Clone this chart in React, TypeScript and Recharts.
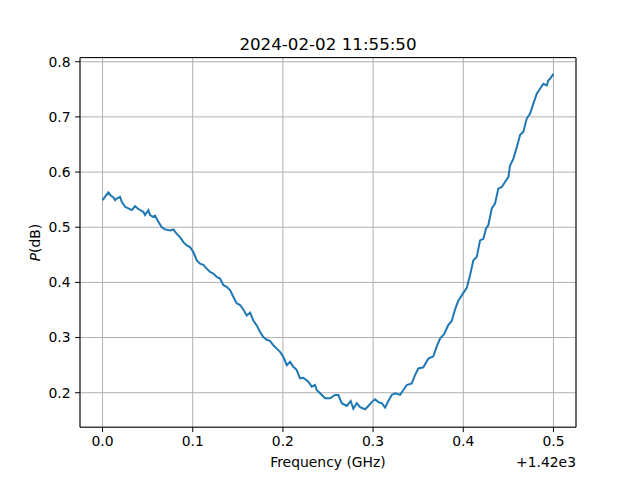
import React from "react";
import {
  LineChart,
  Line,
  XAxis,
  YAxis,
  CartesianGrid,
  ReferenceArea,
  Customized,
} from "recharts";

const TITLE = "2024-02-02 11:55:50";
const X_LABEL = "Frequency (GHz)";
const X_OFFSET_TEXT = "+1.42e3";

// Frequency offsets from 1420 GHz
const freqOffset = [
  0.0, 0.0064, 0.0094, 0.012, 0.0139, 0.0157, 0.0194, 0.0213, 0.025, 0.0286,
  0.0324, 0.036, 0.0397, 0.0452, 0.0471, 0.0508, 0.0527, 0.056, 0.0582, 0.0619,
  0.0656, 0.0693, 0.0749, 0.0785, 0.0823, 0.0859, 0.0896, 0.0934, 0.097, 0.1007,
  0.1045, 0.1081, 0.1118, 0.1137, 0.1192, 0.1229, 0.1266, 0.1303, 0.134, 0.1377,
  0.1414, 0.145, 0.1488, 0.1525, 0.1561, 0.1599, 0.1636, 0.1672, 0.171, 0.1747,
  0.1783, 0.1821, 0.1857, 0.1894, 0.1932, 0.1968, 0.2005, 0.2043, 0.2079, 0.2116,
  0.2153, 0.219, 0.2227, 0.2282, 0.232, 0.2356, 0.2375, 0.2412, 0.2467, 0.2523,
  0.2578, 0.2615, 0.2652, 0.2708, 0.2752, 0.2781, 0.2819, 0.2856, 0.2911, 0.2947,
  0.2985, 0.3022, 0.3058, 0.3096, 0.3133, 0.3169, 0.3207, 0.3244, 0.3299, 0.3336,
  0.3373, 0.3429, 0.3465, 0.3502, 0.3557, 0.3613, 0.3668, 0.3706, 0.3743, 0.3787,
  0.3835, 0.3872, 0.3909, 0.3945, 0.4001, 0.4039, 0.4075, 0.4112, 0.4149, 0.4186,
  0.4223, 0.4253, 0.4278, 0.4316, 0.4352, 0.4389, 0.4427, 0.4463, 0.45, 0.4519,
  0.4555, 0.4593, 0.463, 0.4666, 0.4704, 0.4741, 0.4777, 0.4815, 0.4851, 0.4888,
  0.4926, 0.4943, 0.4962, 0.5,
];

const powerDb = [
  0.549, 0.563, 0.557, 0.554, 0.549, 0.552, 0.555, 0.546, 0.537, 0.534,
  0.531, 0.538, 0.533, 0.528, 0.522, 0.531, 0.522, 0.519, 0.521, 0.51,
  0.5, 0.496, 0.494, 0.496, 0.488, 0.482, 0.473, 0.467, 0.464, 0.455,
  0.44, 0.434, 0.432, 0.428, 0.419, 0.416, 0.41, 0.407, 0.395, 0.392,
  0.386, 0.374, 0.362, 0.359, 0.351, 0.34, 0.345, 0.331, 0.322, 0.31,
  0.301, 0.296, 0.294, 0.286, 0.28, 0.274, 0.265, 0.25, 0.256, 0.247,
  0.241, 0.226, 0.227, 0.22, 0.211, 0.214, 0.205, 0.199, 0.19, 0.19,
  0.196, 0.196, 0.181, 0.176, 0.185, 0.171, 0.181, 0.174, 0.17, 0.176,
  0.183, 0.188, 0.183, 0.181, 0.173, 0.185, 0.196, 0.199, 0.196, 0.205,
  0.214, 0.217, 0.232, 0.244, 0.246, 0.262, 0.266, 0.284, 0.298, 0.306,
  0.323, 0.33, 0.351, 0.367, 0.381, 0.39, 0.413, 0.44, 0.446, 0.476,
  0.479, 0.498, 0.504, 0.534, 0.543, 0.57, 0.573, 0.582, 0.591, 0.612,
  0.624, 0.645, 0.667, 0.673, 0.697, 0.706, 0.724, 0.742, 0.751, 0.76,
  0.757, 0.766, 0.769, 0.778,
];

const xTicks = [0.0, 0.1, 0.2, 0.3, 0.4, 0.5];
const yTicks = [0.2, 0.3, 0.4, 0.5, 0.6, 0.7, 0.8];
const X_DOMAIN: [number, number] = [-0.025, 0.525];
const Y_DOMAIN: [number, number] = [0.1375, 0.8075];

const data = freqOffset.map((f, i) => ({ f, p: powerDb[i] }));

const FONT = "'DejaVu Sans', sans-serif";
const tickStyle = { fontSize: 13.9, fill: "#000", fontFamily: FONT };

const Texts = () => (
  <g fontFamily={FONT} fill="#000">
    <text x={328} y={49.5} textAnchor="middle" fontSize={16.7}>
      {TITLE}
    </text>
    <text x={328} y={467} textAnchor="middle" fontSize={13.9}>
      {X_LABEL}
    </text>
    <text x={576} y={467} textAnchor="end" fontSize={13.9}>
      {X_OFFSET_TEXT}
    </text>
    <text
      x={40}
      y={242.5}
      textAnchor="middle"
      fontSize={13.9}
      transform="rotate(-90 40 242.5)"
    >
      <tspan fontStyle="italic">P</tspan>
      <tspan>(dB)</tspan>
    </text>
  </g>
);

export default function App() {
  return (
    <div style={{ position: "absolute", left: 0, top: 0, background: "#fff" }}>
      <LineChart
        width={640}
        height={480}
        data={data}
        margin={{ top: 57.6, right: 64, bottom: 0, left: 0 }}
      >
        <CartesianGrid stroke="#b0b0b0" strokeWidth={1} horizontal vertical />
        <XAxis
          dataKey="f"
          type="number"
          domain={X_DOMAIN}
          ticks={xTicks}
          tickFormatter={(v: number) => v.toFixed(1)}
          height={52.8}
          tick={tickStyle}
          tickSize={4.9}
          tickMargin={4}
          axisLine={false}
          tickLine={{ stroke: "#000", strokeWidth: 1 }}
          allowDataOverflow
        />
        <YAxis
          type="number"
          domain={Y_DOMAIN}
          ticks={yTicks}
          tickFormatter={(v: number) => v.toFixed(1)}
          width={80}
          tick={tickStyle}
          tickSize={4.9}
          tickMargin={4.5}
          axisLine={false}
          tickLine={{ stroke: "#000", strokeWidth: 1 }}
          allowDataOverflow
        />
        <ReferenceArea
          x1={X_DOMAIN[0]}
          x2={X_DOMAIN[1]}
          y1={Y_DOMAIN[0]}
          y2={Y_DOMAIN[1]}
          fill="none"
          stroke="#000"
          strokeWidth={1}
          ifOverflow="visible"
        />
        <Line
          type="linear"
          dataKey="p"
          stroke="#1f77b4"
          strokeWidth={2}
          dot={false}
          isAnimationActive={false}
        />
        <Customized component={Texts} />
      </LineChart>
    </div>
  );
}
